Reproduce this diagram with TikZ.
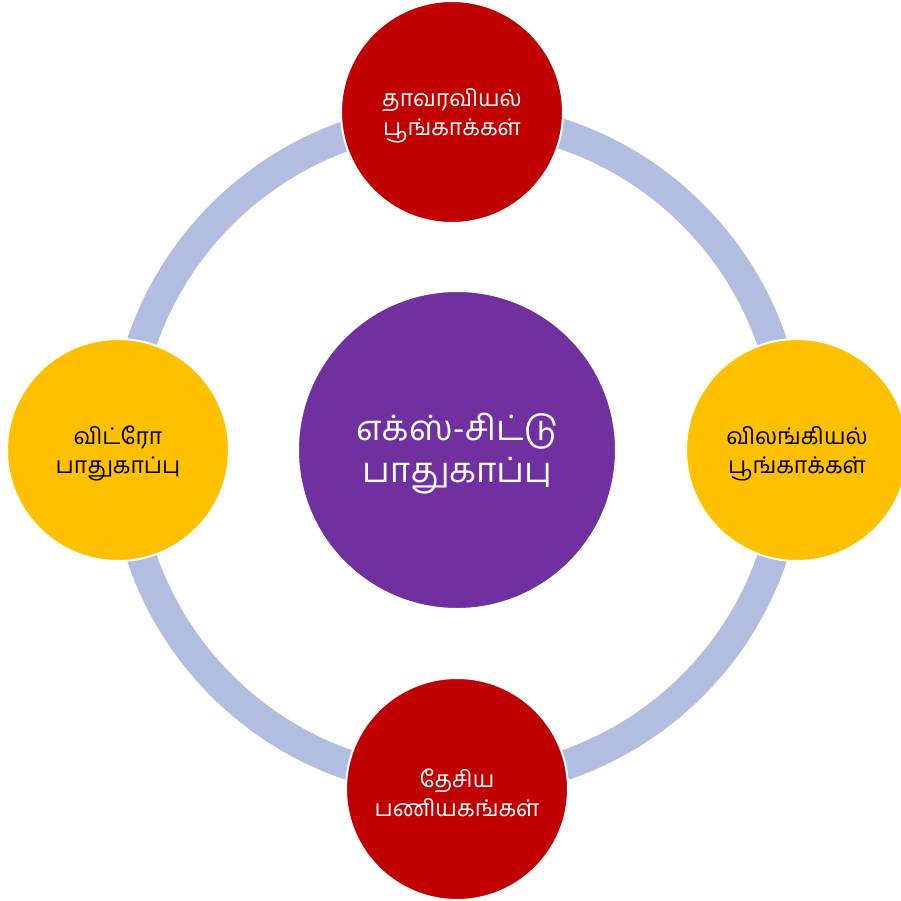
\documentclass[tikz,border=0pt]{standalone}
\usepackage{fontspec}
\newfontfamily\tamilfont[Script=Tamil]{Hind Madurai}
\definecolor{ringblue}{RGB}{177,190,224}
\definecolor{hubpurple}{RGB}{112,48,160}
\definecolor{deepred}{RGB}{192,0,0}
\definecolor{amber}{RGB}{255,192,0}
\tikzset{
  bubble/.style={circle, draw=white, line width=2pt, inner sep=0pt,
    minimum size=222pt},
  bubbletext/.style={align=center, yshift=-3.5pt,
    font=\tamilfont\fontsize{23}{29}\selectfont},
  redbubble/.style={bubble, fill=deepred},
  amberbubble/.style={bubble, fill=amber},
  hub/.style={circle, draw=white, line width=2pt, inner sep=0pt,
    minimum size=318pt, fill=hubpurple},
  hubtext/.style={align=center, yshift=-4pt, text=white,
    font=\tamilfont\fontsize{35}{42}\selectfont}
}
\begin{document}
\begin{tikzpicture}[x=1pt,y=-1pt]
\useasboundingbox (0,0) rectangle (900,901);
% the cycle ring behind all circles
\coordinate (ringcentre) at (457,450);
\draw[ringblue, line width=30pt] (ringcentre) circle[radius=333pt];
% hub
\node[hub, label={[hubtext]center:எக்ஸ்-சிட்டு\\பாதுகாப்பு}] (centre) at (457,450) {};
% satellites
\node[redbubble, label={[bubbletext, text=white]center:தாவரவியல்\\பூங்காக்கள்}] (top) at (452,112) {};
\node[amberbubble, label={[bubbletext, text=black]center:விலங்கியல்\\பூங்காக்கள்}] (right) at (797,450) {};
\node[redbubble, label={[bubbletext, text=white]center:தேசிய\\பணியகங்கள்}] (bottom) at (457,789) {};
\node[amberbubble, label={[bubbletext, text=black]center:விட்ரோ\\பாதுகாப்பு}] (left) at (118,450) {};
\end{tikzpicture}
\end{document}
